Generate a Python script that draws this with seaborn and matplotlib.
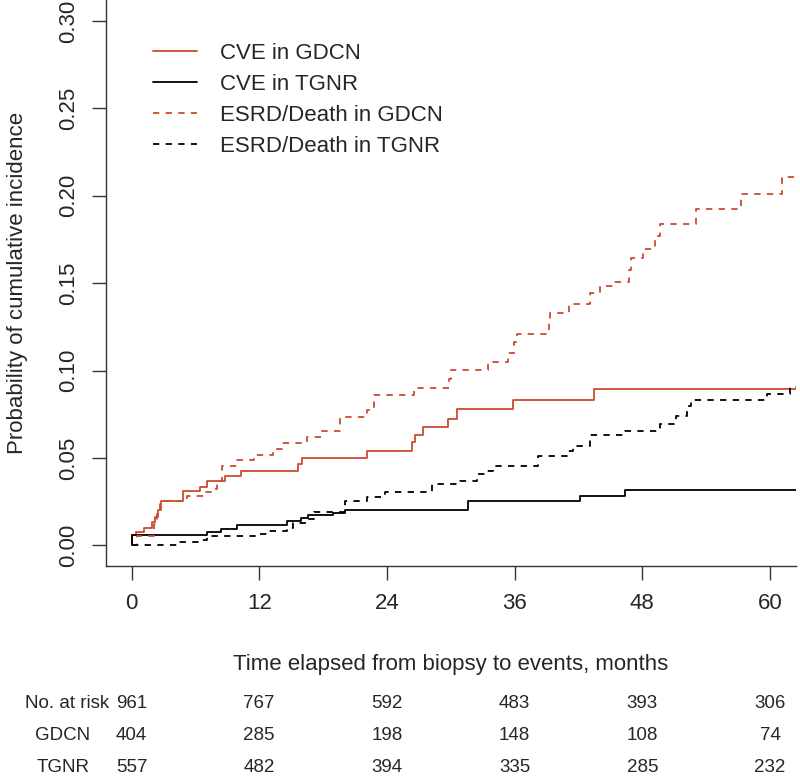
import pandas as pd
import seaborn as sns
import matplotlib.pyplot as plt
from matplotlib.transforms import blended_transform_factory

# step curves (months, cumulative incidence)
cve_gdcn_t = [0, 0.05, 0.4, 1.2, 1.9, 2.2, 2.5, 2.8, 4.8, 6.4, 7.1, 8.8, 10.3, 15.6, 16.0,
              22.1, 26.4, 26.6, 27.4, 29.7, 30.6, 35.8, 43.5, 62.4]
cve_gdcn_p = [0, 0.006, 0.0076, 0.0102, 0.0132, 0.0163, 0.0203, 0.0254, 0.031, 0.0336, 0.0366,
              0.0397, 0.0427, 0.0463, 0.0498, 0.0539, 0.059, 0.063, 0.0676, 0.0722, 0.0778,
              0.0834, 0.0895, 0.0895]

cve_tgnr_t = [0, 0.05, 7.1, 8.4, 9.9, 14.6, 15.9, 16.6, 18.9, 20.1, 31.6, 42.1, 46.4, 62.4]
cve_tgnr_p = [0, 0.0059, 0.0076, 0.0096, 0.0119, 0.0139, 0.0159, 0.0173, 0.0183, 0.0203,
              0.0254, 0.0285, 0.0315, 0.0315]

esrd_gdcn_t = [0, 0.5, 2.1, 2.4, 2.7, 5.2, 6.8, 7.8, 8.0, 8.5, 9.9, 11.5, 13.3, 14.1, 16.5,
               17.9, 19.6, 22.1, 22.8, 26.5, 29.8, 30.0, 33.5, 35.4, 35.9, 36.2, 39.2, 39.3,
               41.1, 43.1, 44.0, 45.4, 46.7, 46.9, 48.1, 49.2, 49.7, 53.0, 57.3, 61.1, 62.4]
esrd_gdcn_p = [0, 0.0051, 0.0122, 0.0178, 0.0254, 0.0282, 0.0305, 0.0321, 0.0366, 0.0456,
               0.0488, 0.0519, 0.0549, 0.0586, 0.062, 0.0657, 0.0732, 0.0776, 0.0858, 0.09,
               0.0954, 0.1002, 0.1048, 0.1103, 0.1164, 0.121, 0.1271, 0.1327, 0.1383, 0.1444,
               0.1485, 0.1505, 0.1576, 0.1643, 0.1698, 0.177, 0.1841, 0.1922, 0.2011, 0.2105,
               0.2105]

esrd_tgnr_t = [0, 4.4, 6.5, 7.1, 11.8, 12.7, 14.6, 15.2, 16.5, 17.1, 20.1, 22.1, 23.8, 28.2,
               30.9, 32.5, 33.4, 34.0, 38.2, 40.9, 41.5, 43.1, 46.4, 49.7, 51.2, 52.2, 52.6,
               59.7, 61.9, 62.4]
esrd_tgnr_p = [0, 0.002, 0.003, 0.0054, 0.0063, 0.0081, 0.0102, 0.0126, 0.015, 0.0188, 0.0251,
               0.0275, 0.0303, 0.0351, 0.0369, 0.0407, 0.0427, 0.0456, 0.0514, 0.0539, 0.057,
               0.0631, 0.0657, 0.0692, 0.0742, 0.08, 0.083, 0.0867, 0.0905, 0.0905]

series_names = ["CVE in GDCN", "CVE in TGNR", "ESRD/Death in GDCN", "ESRD/Death in TGNR"]

# numbers at risk
risk_times = [0, 12, 24, 36, 48, 60]
risk_total = [961, 767, 592, 483, 393, 306]
risk_gdcn = [404, 285, 198, 148, 108, 74]
risk_tgnr = [557, 482, 394, 335, 285, 232]

red = "#CD4B32"
palette = {series_names[0]: red, series_names[1]: "black",
           series_names[2]: red, series_names[3]: "black"}
dashes = {series_names[0]: "", series_names[1]: "",
          series_names[2]: (3.5, 3.5), series_names[3]: (3.5, 3.5)}

frames = []
for name, t, p in zip(series_names,
                      [cve_gdcn_t, cve_tgnr_t, esrd_gdcn_t, esrd_tgnr_t],
                      [cve_gdcn_p, cve_tgnr_p, esrd_gdcn_p, esrd_tgnr_p]):
    frames.append(pd.DataFrame({"time": t, "prob": p, "series": name}))
df = pd.concat(frames, ignore_index=True)

sns.set_style("ticks")
plt.rcParams["font.family"] = ["Liberation Sans", "DejaVu Sans"]

fig = plt.figure(figsize=(8, 7.79), dpi=100)
ax = fig.add_axes([0.1325, 0.273, 0.862, 0.727])

sns.lineplot(data=df, x="time", y="prob", hue="series", style="series",
             hue_order=series_names, style_order=series_names,
             palette=palette, dashes=dashes, drawstyle="steps-post",
             estimator=None, sort=False, linewidth=1.3, legend=False, ax=ax)

ax.set_xlim(-2.4, 62.4)
ax.set_ylim(-0.012, 0.312)
ax.set_xticks(risk_times)
ax.set_yticks([0, 0.05, 0.10, 0.15, 0.20, 0.25, 0.30])
ax.set_yticklabels(["0.00", "0.05", "0.10", "0.15", "0.20", "0.25", "0.30"],
                   rotation=90, va="center")
ax.tick_params(axis="both", labelsize=16, length=10, width=1, color="#333333", pad=9)
sns.despine(ax=ax)
for s in ["left", "bottom"]:
    ax.spines[s].set_color("#333333")
    ax.spines[s].set_linewidth(1)

ax.set_ylabel("Probability of cumulative incidence", fontsize=16, labelpad=22)
ax.set_xlabel("Time elapsed from biopsy to events, months", fontsize=16, labelpad=29)

ax.legend(handles=ax.get_lines()[:4], labels=series_names, loc="upper left",
          bbox_to_anchor=(0.068, 0.924), frameon=False, fontsize=16,
          handlelength=2.0, handletextpad=1.0, labelspacing=0.45,
          borderpad=0, borderaxespad=0)

# risk table under the axis
trans = blended_transform_factory(ax.transData, fig.transFigure)
rows = [("No. at risk", risk_total, 1 - 703 / 779),
        ("GDCN", risk_gdcn, 1 - 736 / 779),
        ("TGNR", risk_tgnr, 1 - 768 / 779)]
for label, vals, yy in rows:
    if label == "No. at risk":
        fig.text(109 / 800, yy, label, ha="right", va="center", fontsize=13.5)
    else:
        fig.text(63 / 800, yy, label, ha="center", va="center", fontsize=13.5)
    for t, v in zip(risk_times, vals):
        ax.text(t, yy, str(v), transform=trans, ha="center", va="center", fontsize=13.5)

fig.savefig("out.png", dpi=100)
